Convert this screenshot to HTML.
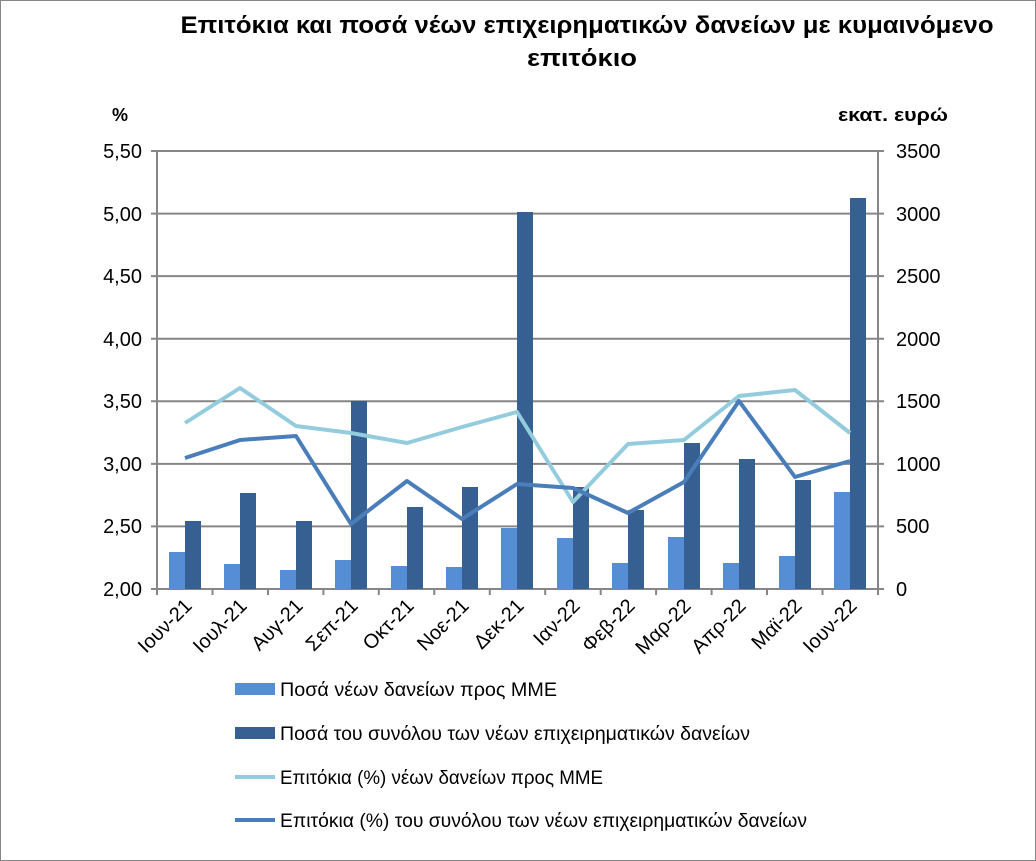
<!DOCTYPE html>
<html><head><meta charset="utf-8"><style>
html,body{margin:0;padding:0;background:#fff}
svg{display:block;font-family:"Liberation Sans","DejaVu Sans",sans-serif}
</style></head><body>
<svg width="1036" height="861" viewBox="0 0 1036 861" xmlns="http://www.w3.org/2000/svg">
<rect x="0.5" y="0.5" width="1035" height="860" fill="#fff" stroke="#868686"/>
<text x="587" y="33" text-anchor="middle" font-size="24" font-weight="bold" textLength="813" lengthAdjust="spacingAndGlyphs">Επιτόκια και ποσά νέων επιχειρηματικών δανείων με κυμαινόμενο</text>
<text x="582" y="66" text-anchor="middle" font-size="24" font-weight="bold" textLength="110" lengthAdjust="spacingAndGlyphs">επιτόκιο</text>
<text x="120" y="121" text-anchor="middle" font-size="18" font-weight="bold">%</text>
<text x="893" y="121" text-anchor="middle" font-size="18" font-weight="bold" textLength="110" lengthAdjust="spacingAndGlyphs">εκατ. ευρώ</text>
<g stroke="#868686" stroke-width="2">
<line x1="151" y1="151" x2="884" y2="151"/>
<line x1="151" y1="213.6" x2="884" y2="213.6"/>
<line x1="151" y1="276.1" x2="884" y2="276.1"/>
<line x1="151" y1="338.7" x2="884" y2="338.7"/>
<line x1="151" y1="401.3" x2="884" y2="401.3"/>
<line x1="151" y1="463.9" x2="884" y2="463.9"/>
<line x1="151" y1="526.4" x2="884" y2="526.4"/>
<line x1="151" y1="589" x2="884" y2="589"/>
<line x1="157" y1="151" x2="157" y2="595"/>
<line x1="878" y1="151" x2="878" y2="589"/>
<line x1="212.5" y1="589" x2="212.5" y2="595"/><line x1="268" y1="589" x2="268" y2="595"/><line x1="323.4" y1="589" x2="323.4" y2="595"/><line x1="378.8" y1="589" x2="378.8" y2="595"/><line x1="434.3" y1="589" x2="434.3" y2="595"/><line x1="489.8" y1="589" x2="489.8" y2="595"/><line x1="545.2" y1="589" x2="545.2" y2="595"/><line x1="600.7" y1="589" x2="600.7" y2="595"/><line x1="656.1" y1="589" x2="656.1" y2="595"/><line x1="711.6" y1="589" x2="711.6" y2="595"/><line x1="767" y1="589" x2="767" y2="595"/><line x1="822.5" y1="589" x2="822.5" y2="595"/><line x1="878" y1="589" x2="878" y2="595"/>
</g>
<g font-size="20" text-anchor="end">
<text x="142" y="158">5,50</text><text x="142" y="221">5,00</text><text x="142" y="283">4,50</text><text x="142" y="346">4,00</text><text x="142" y="408">3,50</text><text x="142" y="471">3,00</text><text x="142" y="533">2,50</text><text x="142" y="596">2,00</text>
</g>
<g font-size="20" text-anchor="start">
<text x="896" y="158">3500</text><text x="896" y="221">3000</text><text x="896" y="283">2500</text><text x="896" y="346">2000</text><text x="896" y="408">1500</text><text x="896" y="471">1000</text><text x="896" y="533">500</text><text x="896" y="596">0</text>
</g>
<g fill="#558ED5">
<rect x="169" y="552" width="16" height="37"/><rect x="224" y="564" width="16" height="25"/><rect x="280" y="570" width="16" height="19"/><rect x="335" y="560" width="16" height="29"/><rect x="391" y="566" width="16" height="23"/><rect x="446" y="567" width="16" height="22"/><rect x="501" y="528" width="16" height="61"/><rect x="557" y="538" width="16" height="51"/><rect x="612" y="563" width="16" height="26"/><rect x="668" y="537" width="16" height="52"/><rect x="723" y="563" width="16" height="26"/><rect x="779" y="556" width="16" height="33"/><rect x="834" y="492" width="16" height="97"/>
</g>
<g fill="#376092">
<rect x="185" y="521" width="16" height="68"/><rect x="240" y="493" width="16" height="96"/><rect x="296" y="521" width="16" height="68"/><rect x="351" y="401" width="16" height="188"/><rect x="407" y="507" width="16" height="82"/><rect x="462" y="487" width="16" height="102"/><rect x="517" y="212" width="16" height="377"/><rect x="573" y="487" width="16" height="102"/><rect x="628" y="510" width="16" height="79"/><rect x="684" y="443" width="16" height="146"/><rect x="739" y="459" width="16" height="130"/><rect x="795" y="480" width="16" height="109"/><rect x="850" y="198" width="16" height="391"/>
</g>
<polyline fill="none" stroke="#93CDDD" stroke-width="4" stroke-linejoin="round" points="185,423 240,388 296,426 351,433 407,443 462,427 517,412 573,502 628,444 684,440 739,396 795,390 850,433"/>
<polyline fill="none" stroke="#4A7EBB" stroke-width="4" stroke-linejoin="round" points="185,458 240,440 296,436 351,524 407,481 462,519 517,484 573,488 628,513 684,482 739,401 795,477 850,461"/>
<g font-size="20" text-anchor="end">
<text transform="translate(193,607) rotate(-45)">Ιουν-21</text>
<text transform="translate(248,607) rotate(-45)">Ιουλ-21</text>
<text transform="translate(304,607) rotate(-45)">Αυγ-21</text>
<text transform="translate(359,607) rotate(-45)">Σεπ-21</text>
<text transform="translate(415,607) rotate(-45)">Οκτ-21</text>
<text transform="translate(470,607) rotate(-45)">Νοε-21</text>
<text transform="translate(525,607) rotate(-45)">Δεκ-21</text>
<text transform="translate(581,607) rotate(-45)">Ιαν-22</text>
<text transform="translate(636,607) rotate(-45)">Φεβ-22</text>
<text transform="translate(692,607) rotate(-45)">Μαρ-22</text>
<text transform="translate(747,607) rotate(-45)">Απρ-22</text>
<text transform="translate(803,607) rotate(-45)">Μαϊ-22</text>
<text transform="translate(858,607) rotate(-45)">Ιουν-22</text>
</g>
<rect x="235" y="683" width="40" height="12" fill="#558ED5"/>
<text x="280" y="696" font-size="19" textLength="277" lengthAdjust="spacingAndGlyphs">Ποσά νέων δανείων προς ΜΜΕ</text>
<rect x="235" y="727" width="40" height="12" fill="#376092"/>
<text x="280" y="740" font-size="19" textLength="470" lengthAdjust="spacingAndGlyphs">Ποσά του συνόλου των νέων επιχειρηματικών δανείων</text>
<line x1="235" y1="777" x2="275" y2="777" stroke="#93CDDD" stroke-width="4"/>
<text x="280" y="784" font-size="19" textLength="323" lengthAdjust="spacingAndGlyphs">Επιτόκια (%) νέων δανείων προς ΜΜΕ</text>
<line x1="235" y1="820" x2="275" y2="820" stroke="#4A7EBB" stroke-width="4"/>
<text x="280" y="827" font-size="19" textLength="527" lengthAdjust="spacingAndGlyphs">Επιτόκια (%) του συνόλου των νέων επιχειρηματικών δανείων</text>
</svg>
</body></html>
